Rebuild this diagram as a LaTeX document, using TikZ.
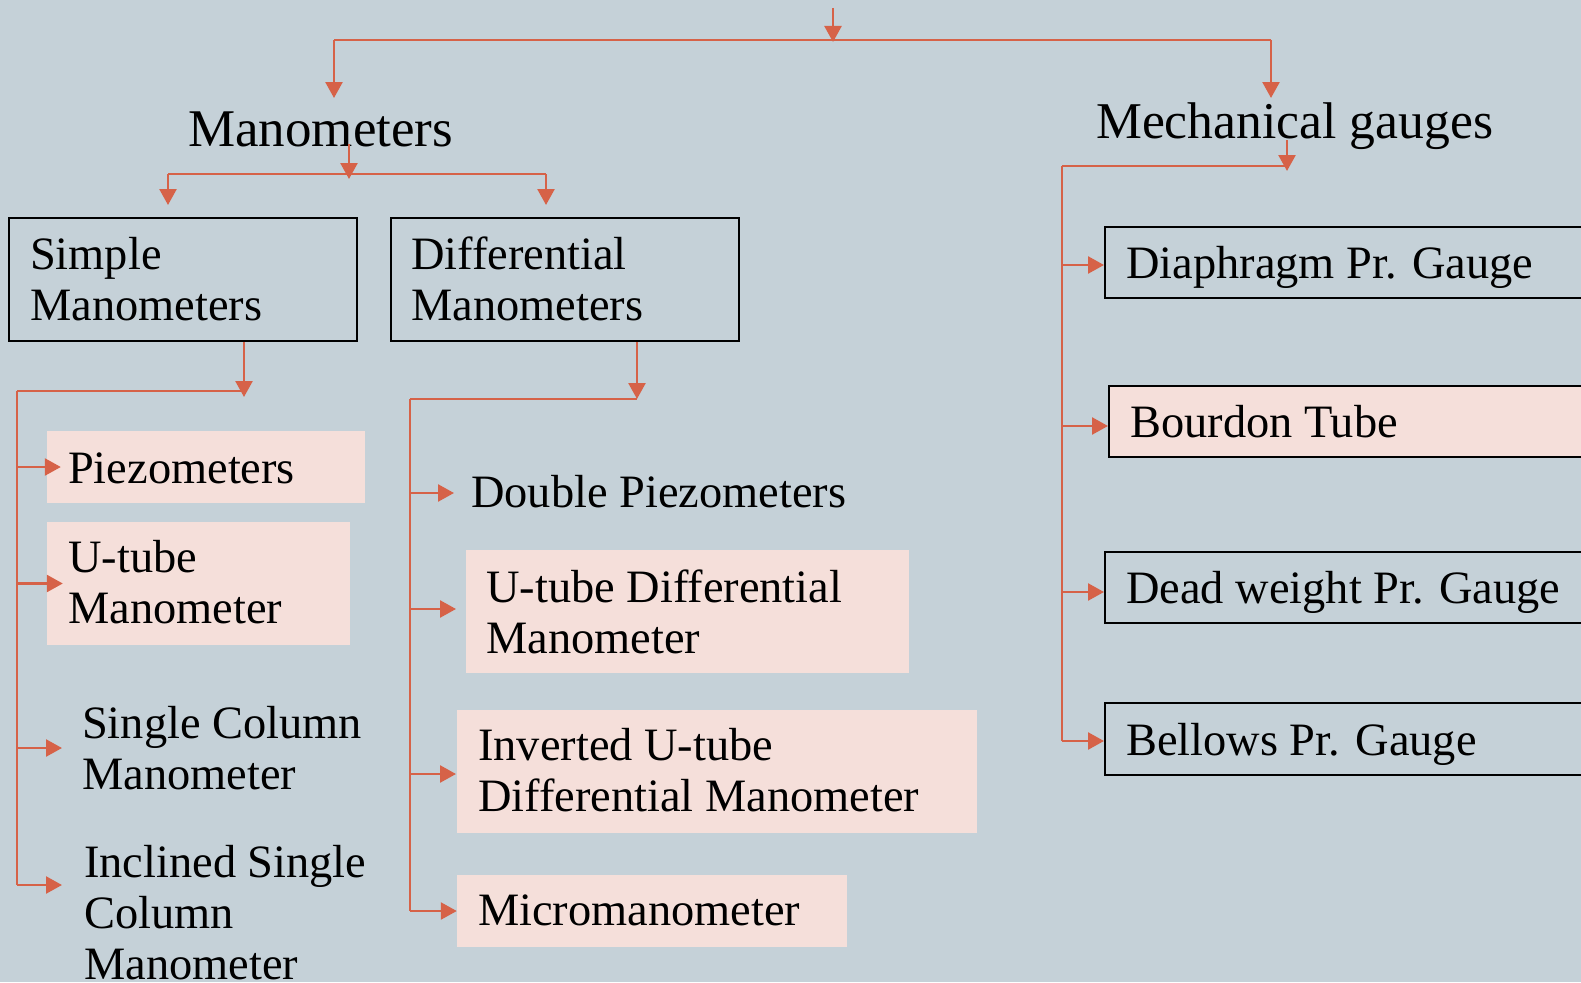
\documentclass[tikz,border=0pt]{standalone}
\usepackage{fontspec}
\setmainfont{Liberation Serif}
\usetikzlibrary{arrows.meta}
\definecolor{bg}{HTML}{C5D1D8}
\definecolor{pk}{HTML}{F5DFDA}
\definecolor{ar}{HTML}{D66248}
\newcommand\mytwo[2]{\vtop{\hbox{#1}\hbox{#2}}}
\newcommand\mythree[3]{\vtop{\hbox{#1}\hbox{#2}\hbox{#3}}}
\tikzset{
 conn/.style={draw=ar, line width=2.5pt},
 arr/.style={conn, -{Triangle[length=16pt,width=17pt]}},
 box/.style={draw=black, line width=2pt, inner sep=0pt},
 pbox/.style={fill=pk, inner sep=0pt},
 bpbox/.style={box, fill=pk},
 item/.style={anchor=base west, inner sep=0pt, font=\fontsize{46.4}{51}\selectfont},
 head/.style={anchor=base west, inner sep=0pt, font=\fontsize{53}{58}\selectfont},
}
\begin{document}
\begin{tikzpicture}[x=1pt,y=-1pt]
\fill[bg] (0,0) rectangle (1581,982);
\useasboundingbox (0,0) rectangle (1581,982);
\clip (0,0) rectangle (1581,982);

% ---------- boxes ----------
\node[box, minimum width=348pt, minimum height=123pt] (simple) at (183,279.5) {};
\node[box, minimum width=348pt, minimum height=123pt] (diff) at (565,279.5) {};
\node[pbox, minimum width=318pt, minimum height=72pt] (piezo) at (206,467) {};
\node[pbox, minimum width=303pt, minimum height=123pt] (utube) at (198.5,583.5) {};
\node[pbox, minimum width=443pt, minimum height=123pt] (udm) at (687.5,611.5) {};
\node[pbox, minimum width=520pt, minimum height=123pt] (inv) at (717,771.5) {};
\node[pbox, minimum width=390pt, minimum height=72pt] (micro) at (652,911) {};
\node[box, minimum width=515pt, minimum height=71pt] (diaph) at (1362.5,262.5) {};
\node[bpbox, minimum width=511pt, minimum height=71pt] (bourdon) at (1364.5,421.5) {};
\node[box, minimum width=515pt, minimum height=71pt] (dead) at (1362.5,587.5) {};
\node[box, minimum width=515pt, minimum height=72pt] (bellows) at (1362.5,739) {};

% ---------- texts ----------
\node[head] (man) at (188,146) {Manometers};
\node[head, font=\fontsize{51.6}{56}\selectfont] (mech) at (1096,138) {Mechanical gauges};
\node[item] (simple-t) at (30,269) {\mytwo{Simple}{Manometers}};
\node[item] (diff-t) at (411,269) {\mytwo{Differential}{Manometers}};
\node[item] (piezo-t) at (68,483) {Piezometers};
\node[item] (utube-t) at (68,572) {\mytwo{U-tube}{Manometer}};
\node[item] (single-t) at (82,738) {\mytwo{Single Column}{Manometer}};
\node[item] (incl-t) at (84,877) {\mythree{Inclined Single}{Column}{Manometer}};
\node[item] (dp-t) at (471,507) {Double Piezometers};
\node[item] (udm-t) at (486,602) {\mytwo{U-tube Differential}{Manometer}};
\node[item] (inv-t) at (478,760) {\mytwo{Inverted U-tube}{Differential Manometer}};
\node[item] (micro-t) at (478,925) {Micromanometer};
\node[item] (diaph-t) at (1126,278) {Diaphragm Pr. Gauge};
\node[item] (bourdon-t) at (1130,437) {Bourdon Tube};
\node[item] (dead-t) at (1126,603) {Dead weight Pr. Gauge};
\node[item] (bellows-t) at (1126,755) {Bellows Pr. Gauge};

% ---------- top split ----------
\coordinate (t0) at (833,8);
\coordinate (t1) at (833,42);
\coordinate (tl) at (334,40);
\coordinate (tr) at (1271,40);
\coordinate (manin) at (334,98);
\coordinate (mechin) at (1271,98);
\draw[conn] (tl) -- (tr);
\draw[arr] (t0) -- (t1);
\draw[arr] (tl) -- (manin);
\draw[arr] (tr) -- (mechin);

% ---------- Manometers split ----------
\coordinate (m0) at (349,144);
\coordinate (m1) at (349,179);
\coordinate (ml) at (168,174);
\coordinate (mr) at (546,174);
\coordinate (simin) at (168,205);
\coordinate (diffin) at (546,205);
\draw[conn] (ml) -- (mr);
\draw[arr] (m0) -- (m1);
\draw[arr] (ml) -- (simin);
\draw[arr] (mr) -- (diffin);

% ---------- Simple branch ----------
\coordinate (sj) at (244,397);
\coordinate (sv) at (17,391);
\coordinate (sb) at (17,885);
\coordinate (sc-in) at (62,748);
\coordinate (ic-in) at (62,885);
\draw[arr] (sj |- simple.south) -- (sj);
\draw[conn] (sv) -- (sv -| sj);
\draw[conn] (sv) -- (sb);
\draw[arr] (sv |- piezo.west) -- ([xshift=14pt]piezo.west);
\draw[arr] (sv |- utube.west) -- ([xshift=16pt]utube.west);
\draw[arr] (sv |- sc-in) -- (sc-in);
\draw[arr] (sb) -- (ic-in);

% ---------- Differential branch ----------
\coordinate (dj) at (637,399);
\coordinate (dv) at (410,399);
\coordinate (db) at (410,911);
\coordinate (dp-in) at (454,493);
\coordinate (udm-in) at (456,609);
\coordinate (inv-in) at (456,774);
\draw[arr] (dj |- diff.south) -- (dj);
\draw[conn] (dv) -- (dj);
\draw[conn] (dv) -- (db);
\draw[arr] (dv |- dp-in) -- (dp-in);
\draw[arr] (dv |- udm-in) -- (udm-in);
\draw[arr] (dv |- inv-in) -- (inv-in);
\draw[arr] (db) -- (micro.west);

% ---------- Mechanical branch ----------
\coordinate (g0) at (1287,140);
\coordinate (g1) at (1287,171);
\coordinate (gv) at (1062,166);
\coordinate (gb) at (1062,741);
\coordinate (diaph-in) at ([yshift=-2.5pt]diaph.west);
\coordinate (bourdon-in) at ([yshift=-4.5pt]bourdon.west);
\coordinate (dead-in) at ([yshift=-4.5pt]dead.west);
\coordinate (bellows-in) at ([yshift=-2pt]bellows.west);
\draw[conn] (gv) -- (gv -| g1);
\draw[arr] (g0) -- (g1);
\draw[conn] (gv) -- (gb);
\draw[arr] (gv |- diaph-in) -- (diaph-in);
\draw[arr] (gv |- bourdon-in) -- (bourdon-in);
\draw[arr] (gv |- dead-in) -- (dead-in);
\draw[arr] (gb) -- (bellows-in);
\end{tikzpicture}
\end{document}
